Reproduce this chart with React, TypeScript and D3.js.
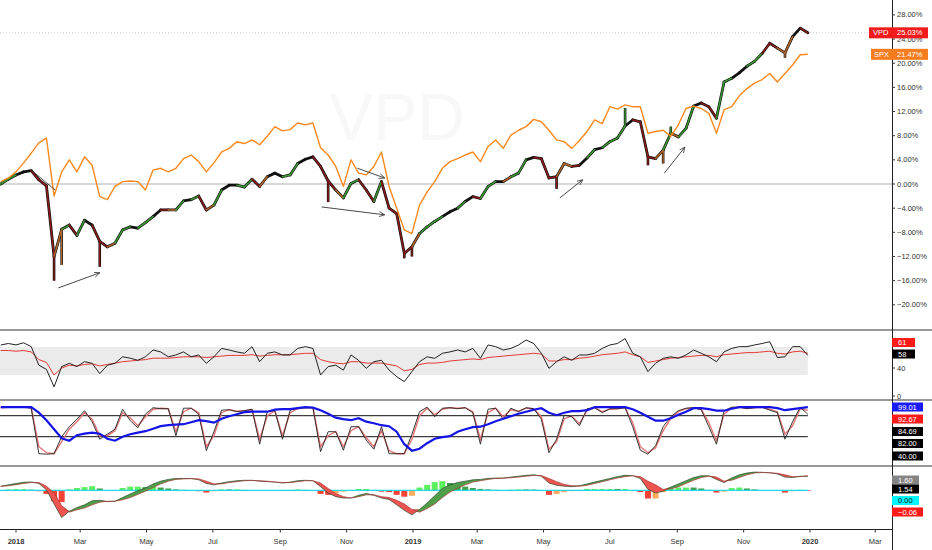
import * as d3 from "d3";

// one sample per week (Monday), Dec 2017 .. Dec 2019
const weeks = d3.timeMonday.range(new Date(2017, 11, 18), new Date(2019, 11, 31));

// VPD, % change from start (weekly close)
const vpd = [
  0.0, 0.8, 1.5, 2.0, 2.2, 0.7, -0.3, -12.0, -7.5, -6.8,
  -8.5, -6.0, -6.8, -9.5, -10.4, -9.8, -7.6, -7.1, -7.3, -6.4,
  -5.4, -4.3, -4.3, -4.3, -2.8, -2.6, -2.0, -4.3, -3.5, -1.0,
  -0.2, -0.2, -0.5, 0.8, -0.4, 1.2, 1.8, 1.2, 1.5, 3.4,
  4.1, 4.5, 2.9, 0.5, -1.0, -2.3, 0.1, 0.7, -1.0, -2.9,
  0.4, -4.0, -4.9, -11.5, -10.4, -8.2, -7.1, -6.2, -5.4, -4.6,
  -4.0, -2.9, -2.1, -2.4, -0.4, 0.4, 0.4, 1.2, 1.8, 4.0,
  4.4, 4.2, 1.0, 1.2, 3.4, 2.9, 3.1, 4.3, 5.7, 6.0,
  7.0, 7.6, 9.6, 10.6, 10.3, 4.5, 4.2, 5.6, 8.4, 7.8,
  9.2, 12.9, 13.4, 12.8, 10.9, 16.9, 17.5, 18.4, 19.5, 20.3,
  21.6, 23.3, 22.5, 21.7, 24.4, 25.8, 25.03,
];
// bar colour state per week: g green, r red, o orange, k black
const vpdState =
  "kggkkrrrog" + "rgkrroggkg" + "gkrogkgrog" + "kkggrokkgg" + "kkrrroggrr" +
  "grrrrogggk" + "kgkrggkogg" + "krrroorkgk" + "gggkrrrogo" + "ggkrrggkkg" + "grrookr";
// intra-week extremes [week index, value]
const vpdSpikes: [number, number][] = [
  [7, -16.0], [8, -13.4], [13, -13.7], [43, -3.0], [53, -12.3], [54, -12.0],
  [73, -0.8], [82, 12.6], [85, 3.1], [87, 3.4], [88, 9.5], [103, 20.9],
];

// SPX, % change from start
const spx = [
  0.4, 1.0, 2.0, 3.5, 5.1, 6.8, 7.6, -2.0, 2.0, 4.0,
  2.0, 4.5, 3.1, -2.1, -2.6, -0.4, 0.4, 0.5, 0.4, -1.0,
  2.3, 2.6, 2.0, 2.6, 4.2, 4.8, 3.7, 2.0, 3.5, 5.3,
  5.9, 7.0, 6.7, 7.3, 6.5, 7.9, 9.5, 8.8, 9.0, 10.1,
  9.8, 10.1, 6.0, 4.8, 2.9, -0.4, 4.0, 1.8, 1.5, 2.9,
  5.3, -0.4, -4.0, -7.6, -8.2, -3.5, -1.3, 0.4, 2.6, 3.7,
  4.2, 4.8, 5.3, 3.7, 6.2, 7.3, 5.9, 8.1, 8.9, 9.5,
  10.7, 10.3, 8.9, 7.3, 7.0, 5.9, 7.2, 8.7, 10.6, 10.0,
  12.8, 12.4, 13.1, 12.8, 12.8, 8.4, 8.7, 8.9, 7.9, 9.8,
  12.5, 12.9, 12.5, 11.7, 8.4, 12.3, 12.8, 14.6, 15.8, 16.7,
  17.3, 18.3, 16.9, 18.3, 19.7, 21.4, 21.47,
];

// RSI pane
const rsi = [
  72.9, 75, 73, 76, 70.5, 44, 38, 13, 42, 46.7,
  42, 49, 46.7, 32, 44, 46.7, 56, 54, 51, 56,
  65.7, 63, 56, 58.6, 63, 56, 58.6, 46.7, 56, 68,
  65.7, 63, 61, 70.5, 49, 61, 63, 58.6, 58.6, 68,
  70.5, 68, 30, 42, 44, 37, 58.6, 51, 39.5, 49,
  51, 37, 27.6, 20.5, 34.8, 49, 56, 53.8, 61, 63,
  65.7, 63, 68, 53.8, 72.9, 70.5, 65.7, 68, 72.9, 80,
  75, 61, 39.5, 49, 56, 51, 58.6, 58.6, 61, 68,
  72.9, 75, 82, 61, 56, 34.8, 46.7, 53.8, 56, 53.8,
  58.6, 65.7, 61, 56, 49, 63, 68, 70.5, 70.5, 72.9,
  75, 77.6, 55, 56, 70.5, 70.5, 58,
];
const rsiSlow = [
  65, 65, 64, 65, 63, 52, 48, 30, 40, 44,
  43, 45, 46, 43, 45, 47, 49, 50, 51, 52,
  54, 54, 54, 55, 56, 56, 56, 55, 56, 57,
  58, 58, 58, 59, 57, 58, 59, 59, 59, 60,
  61, 61, 52, 49, 47, 46, 49, 49, 47, 47,
  47, 45, 43, 36, 38, 45, 47, 47, 48, 50,
  51, 52, 53, 52, 55, 56, 57, 58, 59, 60,
  61, 60, 50, 50, 52, 52, 54, 55, 57, 59,
  60, 61, 63, 59, 56, 48, 50, 52, 54, 55,
  56, 57, 58, 58, 56, 59, 60, 61, 62, 62,
  63, 64, 61, 60, 63, 64, 61,
];

// Stochastic pane
const stochK = [
  99, 99, 99, 99, 97, 6, 5, 6, 40, 60,
  75, 92, 70, 35, 45, 55, 95, 72, 58, 85,
  98, 96, 96, 42, 97, 97, 85, 12, 50, 93,
  94, 90, 92, 95, 25, 90, 92, 35, 93, 97,
  98, 98, 10, 50, 50, 13, 60, 60, 33, 15,
  60, 6, 6, 6, 45, 90, 99, 80, 97, 98,
  96, 98, 88, 25, 95, 97, 75, 97, 90, 98,
  96, 75, 8, 35, 83, 80, 62, 96, 98, 88,
  96, 96, 98, 60, 13, 5, 22, 60, 80, 92,
  97, 98, 94, 60, 25, 92, 99, 99, 96, 98,
  99, 93, 88, 35, 70, 99, 84.69,
];
const stochD = [
  98, 99, 99, 99, 98, 20, 8, 6, 30, 55,
  70, 88, 75, 42, 42, 52, 88, 78, 62, 80,
  95, 97, 96, 50, 90, 97, 88, 20, 42, 88,
  94, 91, 92, 94, 35, 82, 92, 42, 88, 96,
  98, 98, 20, 42, 50, 20, 52, 60, 38, 20,
  52, 12, 6, 6, 35, 82, 97, 84, 95, 98,
  97, 98, 90, 35, 88, 97, 80, 94, 91, 97,
  96, 80, 15, 30, 76, 81, 66, 92, 98, 90,
  95, 96, 98, 68, 20, 8, 18, 52, 76, 90,
  96, 98, 95, 68, 32, 85, 98, 99, 97, 98,
  99, 95, 90, 45, 62, 96, 92.67,
];
const stochSlow = [
  99, 99, 99, 99, 99, 88, 73, 55, 37, 32,
  43, 46, 48, 46, 36, 32, 40, 45, 48, 51,
  56, 61, 63, 64, 65, 69, 73, 71, 68, 76,
  81, 85, 89, 90, 90, 90, 94, 95, 95, 97,
  99, 98, 93, 86, 78, 75, 73, 77, 70, 67,
  63, 61, 50, 25, 12, 16, 27, 36, 39, 41,
  50, 55, 59, 60, 65, 71, 76, 81, 86, 90,
  94, 97, 88, 83, 88, 91, 91, 93, 99, 99,
  99, 99, 99, 95, 88, 80, 72, 72, 77, 84,
  90, 97, 97, 95, 92, 92, 96, 99, 99, 99,
  99, 99, 97, 93, 95, 97, 99.01,
];
const stochLevels = [82, 40];

// MACD pane
const macdLine = [
  0.45, 0.6, 0.75, 0.88, 0.92, 0.75, 0.05, -1.5, -3.0, -2.3,
  -1.9, -1.6, -1.15, -1.1, -1.25, -1.2, -0.8, -0.4, -0.05, 0.25,
  0.7, 1.0, 1.2, 1.3, 1.3, 1.3, 1.15, 0.75, 0.6, 0.8,
  0.95, 1.05, 1.1, 1.1, 1.0, 0.95, 0.9, 0.8, 0.9, 1.05,
  1.1, 1.05, 0.4, -0.3, -0.7, -0.85, -0.85, -0.55, -0.35, -0.55,
  -0.85, -1.0, -1.6, -2.2, -2.7, -2.1, -1.4, -0.6, 0.2, 0.6,
  0.85, 1.0, 1.15, 1.2, 1.3, 1.35, 1.35, 1.45, 1.55, 1.65,
  1.7, 1.55, 0.8, 0.55, 0.45, 0.4, 0.5, 0.7, 0.9, 1.1,
  1.3, 1.5, 1.65, 1.6, 1.3, 0.1, -0.3, -0.1, 0.35, 0.7,
  1.05, 1.4, 1.6, 1.6, 1.2, 0.85, 1.35, 1.7, 1.9, 2.0,
  1.98, 1.92, 1.8, 1.45, 1.4, 1.55, 1.54,
];
const macdSignal = [
  0.42, 0.5, 0.62, 0.75, 0.85, 0.85, 0.45, -0.3, -1.7, -2.4,
  -2.15, -1.95, -1.6, -1.3, -1.2, -1.2, -1.05, -0.8, -0.45, -0.1,
  0.3, 0.7, 1.0, 1.2, 1.25, 1.28, 1.25, 1.0, 0.7, 0.7,
  0.85, 0.95, 1.05, 1.08, 1.05, 1.0, 0.92, 0.85, 0.85, 0.95,
  1.05, 1.05, 0.8, 0.2, -0.35, -0.7, -0.85, -0.7, -0.5, -0.5,
  -0.7, -0.8, -1.1, -1.5, -2.1, -2.4, -2.0, -1.5, -0.8, -0.2,
  0.25, 0.6, 0.9, 1.05, 1.2, 1.3, 1.32, 1.38, 1.45, 1.55,
  1.62, 1.62, 1.3, 0.95, 0.65, 0.5, 0.45, 0.55, 0.75, 0.95,
  1.15, 1.35, 1.5, 1.6, 1.5, 1.0, 0.6, 0.1, 0.15, 0.4,
  0.75, 1.1, 1.4, 1.55, 1.45, 1.0, 1.1, 1.4, 1.7, 1.9,
  1.95, 1.93, 1.87, 1.7, 1.5, 1.5, 1.6,
];

// axes
const xTickDates = [
  "2018-01-01", "2018-03-01", "2018-05-01", "2018-07-01", "2018-09-01", "2018-11-01",
  "2019-01-01", "2019-03-01", "2019-05-01", "2019-07-01", "2019-09-01", "2019-11-01",
  "2020-01-01", "2020-03-01",
];
const xTickLabels = ["2018", "Mar", "May", "Jul", "Sep", "Nov", "2019", "Mar", "May", "Jul", "Sep", "Nov", "2020", "Mar"];
const mainTicks = [28, 24, 20, 16, 12, 8, 4, 0, -4, -8, -12, -16, -20];

// drawn annotations: [from date, from %, to date, to %, arrow head]
const annotations: [string, number, string, number, boolean][] = [
  ["2018-01-15", 2.3, "2018-02-06", -1.0, false],
  ["2018-02-09", -17.2, "2018-03-19", -14.7, true],
  ["2018-11-11", 2.6, "2018-12-06", 1.0, true],
  ["2018-10-09", -3.8, "2018-12-06", -5.1, true],
  ["2019-05-16", -2.3, "2019-06-06", 0.7, true],
  ["2019-08-20", 1.8, "2019-09-08", 6.1, true],
];

const parseDay = d3.timeParse("%Y-%m-%d");
const stateColor: Record<string, string> = { g: "#3c9a35", r: "#8b1a1a", o: "#b5672c", k: "#111" };
const FONT = "'Liberation Sans', Arial, sans-serif";

const Tag = ({ x, yc, w, text, bg, fg = "#fff" }: { x: number; yc: number; w: number; text: string; bg: string; fg?: string }) => (
  <g>
    <rect x={x} y={yc - 4.5} width={w} height={9} fill={bg} />
    <text x={x + 6} y={yc + 2.6} fill={fg} fontSize={7.5}>{text}</text>
  </g>
);

export default function App() {
  const W = 932, H = 550, AX = 892;
  const x = d3.scaleTime().domain([new Date(2018, 0, 1), new Date(2020, 0, 1)]).range([16, 810]);
  const yMain = d3.scaleLinear().domain([0, 28]).range([184, 184 - 28 * 6.04]);
  const yRsi = d3.scaleLinear().domain([0, 100]).range([396, 326]);
  const yStoch = d3.scaleLinear().domain([0, 100]).range([456.7, 406.7]);
  const yMacd = d3.scaleLinear().domain([0, 1]).range([490.3, 481.2]);

  const xs = weeks.map((d) => x(d));
  const xEnd = xs[xs.length - 1];
  const lineOf = (vals: number[], y: d3.ScaleLinear<number, number>) =>
    d3.line<number>().x((_, i) => xs[i]).y((v) => y(v))(vals) ?? "";

  const segs = vpd.slice(1).map((v, k) => ({
    x1: xs[k], y1: yMain(vpd[k]), x2: xs[k + 1], y2: yMain(v), c: vpdState[k + 1],
  }));

  const greenArea = d3.area<number>()
    .x((_, i) => xs[i])
    .y0((_, i) => yMacd(macdSignal[i]))
    .y1((_, i) => yMacd(Math.max(macdLine[i], macdSignal[i])))(macdLine) ?? "";
  const redArea = d3.area<number>()
    .x((_, i) => xs[i])
    .y0((_, i) => yMacd(macdLine[i]))
    .y1((_, i) => yMacd(Math.max(macdLine[i], macdSignal[i])))(macdLine) ?? "";

  const hist = macdLine.map((m, i) => m - macdSignal[i]);
  const histColor = (i: number) => {
    const h = hist[i], p = i > 0 ? hist[i - 1] : h;
    if (h >= 0) return h >= p ? "#5df05d" : "#3e9e4a";
    return h < p ? "#f44336" : "#ffab5e";
  };

  const fmtPct = (v: number) => (v < 0 ? "\u2212" : "") + Math.abs(v).toFixed(2) + "%";

  return (
    <svg width={W} height={H} style={{ position: "absolute", left: 0, top: 0, background: "#fff" }} fontFamily={FONT}>
      <defs>
        <marker id="ah" viewBox="0 0 10 10" refX="9" refY="5" markerWidth="7" markerHeight="7" orient="auto">
          <path d="M0,1 L9,5 L0,9" fill="none" stroke="#333" strokeWidth="1.2" />
        </marker>
      </defs>

      {/* watermark */}
      <text x={397} y={140} textAnchor="middle" fontSize={66} fill="#f8f8f8">VPD</text>

      {/* main pane */}
      <line x1={0} x2={AX} y1={yMain(0)} y2={yMain(0)} stroke="#b0b0b0" strokeWidth={1} />
      <line x1={0} x2={AX} y1={yMain(25.03)} y2={yMain(25.03)} stroke="#bbb" strokeWidth={0.8} strokeDasharray="1,2" />

      {segs.map((s, i) => (
        <line key={"o" + i} x1={s.x1} y1={s.y1} x2={s.x2} y2={s.y2} stroke="#111" strokeWidth={2.8} strokeLinecap="round" />
      ))}
      {vpdSpikes.map(([i, v]) => (
        <line key={"so" + i} x1={xs[i]} x2={xs[i]} y1={yMain(vpd[i])} y2={yMain(v)} stroke="#111" strokeWidth={2.6} />
      ))}
      {segs.filter((s) => s.c !== "k").map((s, i) => (
        <line key={"c" + i} x1={s.x1} y1={s.y1} x2={s.x2} y2={s.y2} stroke={stateColor[s.c]} strokeWidth={1.5} strokeLinecap="round" />
      ))}
      {vpdSpikes.map(([i, v]) => (
        <line key={"sc" + i} x1={xs[i]} x2={xs[i]} y1={yMain(vpd[i])} y2={yMain(v)} stroke={stateColor[vpdState[i]]} strokeWidth={1.3} />
      ))}
      <path d={lineOf(spx, yMain)} fill="none" stroke="#f7891f" strokeWidth={1.4} strokeLinejoin="round" />

      {annotations.map(([d1, v1, d2, v2, head], i) => (
        <line key={"a" + i} x1={x(parseDay(d1)!)} y1={yMain(v1)} x2={x(parseDay(d2)!)} y2={yMain(v2)}
          stroke="#333" strokeWidth={0.9} markerEnd={head ? "url(#ah)" : undefined} />
      ))}

      {/* RSI pane */}
      <rect x={0} y={yRsi(70)} width={xEnd} height={yRsi(30) - yRsi(70)} fill="#ebebeb" />
      <path d={lineOf(rsiSlow, yRsi)} fill="none" stroke="#e53935" strokeWidth={1} />
      <path d={lineOf(rsi, yRsi)} fill="none" stroke="#222" strokeWidth={1} />

      {/* Stoch pane */}
      {stochLevels.map((v) => (
        <line key={"lv" + v} x1={0} x2={xEnd} y1={yStoch(v)} y2={yStoch(v)} stroke="#111" strokeWidth={1} />
      ))}
      <path d={lineOf(stochD, yStoch)} fill="none" stroke="#e57373" strokeWidth={1.4} />
      <path d={lineOf(stochK, yStoch)} fill="none" stroke="#222" strokeWidth={0.9} />
      <path d={lineOf(stochSlow, yStoch)} fill="none" stroke="#1414e6" strokeWidth={2.2} />

      {/* MACD pane */}
      {hist.map((h, i) => (
        <rect key={"h" + i} x={xs[i] - 3} width={6} y={Math.min(yMacd(h), yMacd(0))}
          height={Math.max(0.6, Math.abs(yMacd(h) - yMacd(0)))} fill={histColor(i)} />
      ))}
      <line x1={0} x2={xEnd} y1={yMacd(0)} y2={yMacd(0)} stroke="#22d8e8" strokeWidth={1.2} />
      <path d={greenArea} fill="#4f9f4a" />
      <path d={redArea} fill="#ef5350" />
      <path d={lineOf(macdLine, yMacd)} fill="none" stroke="#2b4a2b" strokeWidth={0.7} />
      <path d={lineOf(macdSignal, yMacd)} fill="none" stroke="#a33" strokeWidth={0.7} />

      {/* pane separators and axes */}
      <line x1={0} x2={W} y1={330} y2={330} stroke="#333" strokeWidth={1} />
      <line x1={0} x2={W} y1={400} y2={400} stroke="#777" strokeWidth={1.6} />
      <line x1={0} x2={W} y1={466} y2={466} stroke="#777" strokeWidth={1.6} />
      <line x1={0} x2={AX} y1={529.5} y2={529.5} stroke="#222" strokeWidth={1} />
      <line x1={AX + 0.5} x2={AX + 0.5} y1={0} y2={H} stroke="#222" strokeWidth={1} />

      {mainTicks.map((v) => (
        <g key={"mt" + v}>
          <line x1={AX} x2={AX + 3} y1={yMain(v)} y2={yMain(v)} stroke="#333" />
          <text x={AX + 5} y={yMain(v) + 2.6} fontSize={7.5} fill="#333">{fmtPct(v)}</text>
        </g>
      ))}

      {/* price tags */}
      <rect x={869} y={yMain(25.03) - 5.5} width={59} height={11} fill="#f21b1b" />
      <text x={873} y={yMain(25.03) + 2.6} fontSize={7.5} fill="#fff">VPD</text>
      <text x={AX + 5} y={yMain(25.03) + 2.6} fontSize={7.5} fill="#fff">{fmtPct(25.03)}</text>
      <rect x={871} y={yMain(21.47) - 5.5} width={57} height={11} fill="#f57c1f" />
      <text x={874} y={yMain(21.47) + 2.6} fontSize={7.5} fill="#fff">SPX</text>
      <text x={AX + 5} y={yMain(21.47) + 2.6} fontSize={7.5} fill="#fff">{fmtPct(21.47)}</text>

      {/* lower pane scales */}
      {[40, 0].map((v) => (
        <g key={"rt" + v}>
          <line x1={AX} x2={AX + 3} y1={yRsi(v)} y2={yRsi(v)} stroke="#333" />
          <text x={AX + 5} y={yRsi(v) + 2.6} fontSize={7.5} fill="#333">{v}</text>
        </g>
      ))}
      <Tag x={AX} yc={342.5} w={23} text="61" bg="#ff1a1a" />
      <Tag x={AX} yc={354} w={23} text="58" bg="#000" />

      <Tag x={AX} yc={407} w={31} text="99.01" bg="#1a1aff" />
      <Tag x={AX} yc={419} w={31} text="92.67" bg="#ff1a1a" />
      <Tag x={AX} yc={431.5} w={31} text="84.69" bg="#000" />
      <Tag x={AX} yc={443.5} w={31} text="82.00" bg="#000" />
      <Tag x={AX} yc={456} w={31} text="40.00" bg="#000" />

      <Tag x={AX} yc={480} w={27} text="1.60" bg="#858585" />
      <Tag x={AX} yc={489} w={27} text="1.54" bg="#000" />
      <Tag x={AX} yc={500.5} w={27} text="0.00" bg="#00f5ff" fg="#111" />
      <Tag x={AX} yc={512} w={31} text={"\u22120.06"} bg="#ff1a1a" />

      {/* time axis */}
      {xTickDates.map((d, i) => {
        const px = x(parseDay(d)!);
        const bold = /^\d{4}$/.test(xTickLabels[i]);
        return (
          <g key={"xt" + d}>
            <line x1={px} x2={px} y1={529.5} y2={532.5} stroke="#333" />
            <text x={px} y={544} textAnchor="middle" fontSize={7.5} fontWeight={bold ? 700 : 400} fill="#333">
              {xTickLabels[i]}
            </text>
          </g>
        );
      })}
    </svg>
  );
}
